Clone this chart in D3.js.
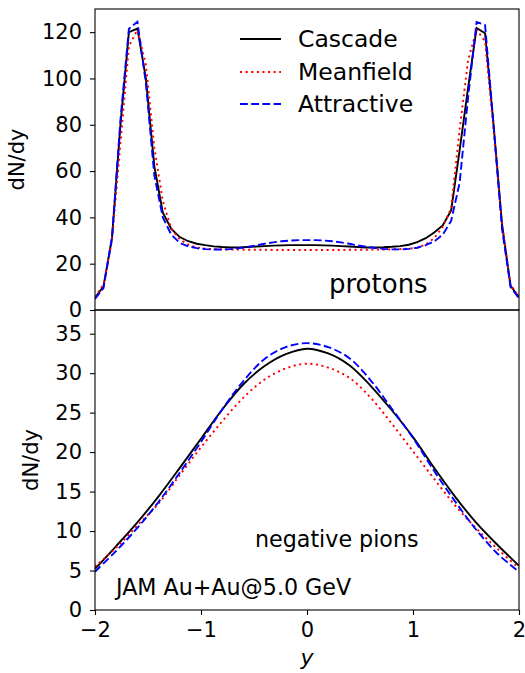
<!DOCTYPE html>
<html><head><meta charset="utf-8">
<script src="https://cdn.jsdelivr.net/npm/d3@7"></script>
<style>body{margin:0;background:#fff}text{font-family:"DejaVu Sans",sans-serif;fill:#000}</style>
</head><body><svg id="c" width="525" height="673"></svg>
<script>
// ---------- DATA ----------
const protonY = [-2.00,-1.92,-1.84,-1.76,-1.68,-1.60,-1.52,-1.44,-1.36,-1.28,-1.20,-1.12,-1.04,-0.96,-0.88,-0.80,-0.72,-0.64,-0.56,-0.48,-0.40,-0.32,-0.24,-0.16,-0.08,0.00,0.08,0.16,0.24,0.32,0.40,0.48,0.56,0.64,0.72,0.80,0.88,0.96,1.04,1.12,1.20,1.28,1.36,1.44,1.52,1.60,1.68,1.76,1.84,1.92,2.00];
const protonCascade = [5.2,10.2,31,80,120,121.5,100,62,42,35,31.5,29.7,28.6,28.0,27.5,27.2,27.0,27.0,27.2,27.4,27.6,27.8,27.9,28.0,28.0,28.0,28.0,27.9,27.8,27.6,27.4,27.2,27.0,27.0,27.1,27.3,27.6,28.2,29.3,31.0,33.5,36.5,43,69,96,121.8,119.5,80,37,10.5,5.5];
const protonMeanfield = [5.5,11,30,72,114,121,106,70,47,35,30.5,28.2,27.0,26.5,26.3,26.2,26.1,26.1,26.0,26.0,26.0,25.9,25.9,25.9,25.9,25.9,25.9,25.9,25.9,25.9,26.0,26.0,26.0,26.1,26.1,26.2,26.3,26.5,26.9,28.3,31,36,44,78,108,121,116,78,37,11,5.5];
const protonAttractive = [4.8,9.5,31,82,121.5,124.5,98,58,40,32.5,29,27.5,26.7,26.3,26.1,26.1,26.3,26.7,27.2,27.9,28.6,29.2,29.7,30.0,30.2,30.2,30.2,30.0,29.7,29.2,28.6,27.9,27.3,26.8,26.4,26.2,26.2,26.4,26.9,28.0,29.6,32.5,38.5,55,92,124.4,123,80,35,10,5];

const pionY = [-2.0,-1.8,-1.6,-1.4,-1.2,-1.0,-0.8,-0.6,-0.4,-0.2,0.0,0.2,0.4,0.6,0.8,1.0,1.2,1.4,1.6,1.8,2.0];
const pionCascade = [5.2,8.1,11.1,14.4,18.0,21.7,25.4,28.6,30.9,32.4,33.1,32.5,31.0,28.4,25.3,21.9,18.0,14.3,11.0,8.2,5.6];
const pionMeanfield = [5.5,7.9,10.7,13.5,17.1,20.6,23.9,26.9,29.2,30.6,31.2,30.7,29.4,26.9,23.6,20.1,16.6,13.2,10.3,7.7,5.3];
const pionAttractive = [4.85,7.5,10.4,13.7,17.4,21.3,25.4,29.0,31.8,33.3,33.8,33.3,31.9,29.1,25.5,21.8,17.6,13.7,10.1,7.1,4.85];

const seriesNames = ["Cascade","Meanfield","Attractive"];
const xTicks = [-2,-1,0,1,2];
const topYTicks = [0,20,40,60,80,100,120];
const botYTicks = [0,5,10,15,20,25,30,35];

// ---------- STYLE ----------
const styles = {
  Cascade:   {color:"#000000", dash:null},
  Meanfield: {color:"#ff0000", dash:"2.1,3.5"},
  Attractive:{color:"#0000ff", dash:"7.8,3.4"}
};
const LW = 1.9;
const FS = 21;

const svg = d3.select("#c");
const L = 95, R = 519;
const x = d3.scaleLinear([-2,2],[L,R]);
const yTop = d3.scaleLinear([0,130],[310,9]);
const yBot = d3.scaleLinear([0,38],[610,310]);

const defs = svg.append("defs");
defs.append("clipPath").attr("id","clipTop").append("rect").attr("x",L).attr("y",9).attr("width",R-L).attr("height",301);
defs.append("clipPath").attr("id","clipBot").append("rect").attr("x",L).attr("y",310).attr("width",R-L).attr("height",300);

function drawPanel(yScale, xs, data, clip, curve) {
  const g = svg.append("g").attr("clip-path",`url(#${clip})`);
  seriesNames.forEach((name,i) => {
    const line = d3.line().x((d,j)=>x(xs[j])).y(d=>yScale(d)).curve(curve);
    g.append("path").datum(data[i]).attr("d",line)
      .attr("fill","none").attr("stroke",styles[name].color)
      .attr("stroke-width",LW).attr("stroke-dasharray",styles[name].dash);
  });
}
drawPanel(yTop, protonY, [protonCascade,protonMeanfield,protonAttractive], "clipTop", d3.curveLinear);
drawPanel(yBot, pionY, [pionCascade,pionMeanfield,pionAttractive], "clipBot", d3.curveCatmullRom);

// axes
function styleAxis(g){
  g.select(".domain").remove();
  g.selectAll(".tick line").attr("stroke","#000").attr("stroke-width",1.1);
  g.selectAll(".tick text").attr("font-size",FS).attr("font-family","DejaVu Sans").attr("fill","#000");
}
const fmt = d => d < 0 ? "\u2212" + Math.abs(d) : String(d);
svg.append("g").attr("transform",`translate(${L},0)`)
  .call(d3.axisLeft(yTop).tickValues(topYTicks).tickSize(5).tickPadding(8).tickFormat(fmt)).call(styleAxis);
svg.append("g").attr("transform",`translate(${L},0)`)
  .call(d3.axisLeft(yBot).tickValues(botYTicks).tickSize(5).tickPadding(8).tickFormat(fmt)).call(styleAxis);
svg.append("g").attr("transform",`translate(0,610)`)
  .call(d3.axisBottom(x).tickValues(xTicks).tickSize(5).tickPadding(7).tickFormat(fmt)).call(styleAxis);

// frames
[[9,310],[310,610]].forEach(([t,b])=>{
  svg.append("rect").attr("x",L).attr("y",t).attr("width",R-L).attr("height",b-t)
    .attr("fill","none").attr("stroke","#000").attr("stroke-width",1.1);
});

// axis labels
svg.append("text").attr("transform",`translate(24,${(9+310)/2}) rotate(-90)`)
  .attr("text-anchor","middle").attr("font-size",FS).text("dN/dy");
svg.append("text").attr("transform",`translate(38,${(310+610)/2}) rotate(-90)`)
  .attr("text-anchor","middle").attr("font-size",FS).text("dN/dy");
svg.append("text").attr("x",(L+R)/2).attr("y",665).attr("text-anchor","middle")
  .attr("font-size",22).attr("font-style","italic").text("y");

// legend
const legY = [39,72,104];
seriesNames.forEach((name,i)=>{
  svg.append("line").attr("x1",240).attr("x2",281).attr("y1",legY[i]).attr("y2",legY[i])
    .attr("stroke",styles[name].color).attr("stroke-width",LW).attr("stroke-dasharray",styles[name].dash);
  svg.append("text").attr("x",298).attr("y",legY[i]).attr("dy","0.35em").attr("font-size",23.5).text(name);
});

// annotations
svg.append("text").attr("x",329).attr("y",293).attr("font-size",26).text("protons");
svg.append("text").attr("x",255).attr("y",547).attr("font-size",22.2).text("negative pions");
svg.append("text").attr("x",116).attr("y",595).attr("font-size",22.2).text("JAM Au+Au@5.0 GeV");
</script></body></html>
